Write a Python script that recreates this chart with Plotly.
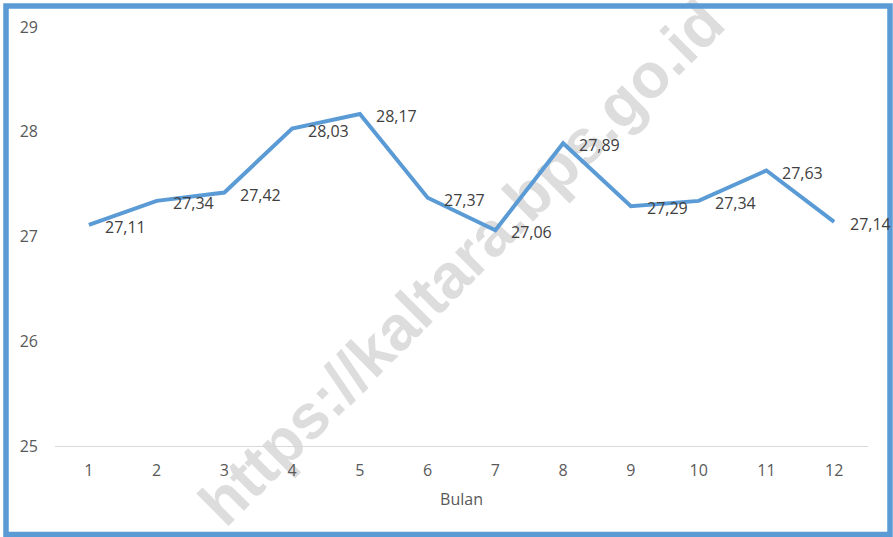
import plotly.graph_objects as go

bulan = [1, 2, 3, 4, 5, 6, 7, 8, 9, 10, 11, 12]
nilai = [27.11, 27.34, 27.42, 28.03, 28.17, 27.37, 27.06, 27.89, 27.29, 27.34, 27.63, 27.14]
label = ["27,11", "27,34", "27,42", "28,03", "28,17", "27,37", "27,06", "27,89", "27,29", "27,34", "27,63", "27,14"]
y_ticks = [25, 26, 27, 28, 29]
x_title = "Bulan"
watermark = "https://kaltara.bps.go.id"

W, H = 893, 537
L, R, T, B = 55, 25, 27, 91
pw, ph = W - L - R, H - T - B

def px_x(p):
    return (p - L) / pw

def px_y(p):
    return (H - B - p) / ph

fig = go.Figure()
fig.add_trace(go.Scatter(
    x=bulan, y=nilai, mode="lines",
    line=dict(color="#5B9BD5", width=4),
    hoverinfo="skip", showlegend=False,
))

for xv, yv, t in zip(bulan, nilai, label):
    fig.add_annotation(
        x=xv, y=yv, text=t, showarrow=False,
        xanchor="left", yanchor="middle", xshift=14, yshift=-2,
        font=dict(family="Open Sans", size=16, color="#404040"),
    )

# watermark (below traces)
fig.add_shape(
    type="rect", xref="paper", yref="paper",
    x0=px_x(457) - 0.01, x1=px_x(457) + 0.01,
    y0=px_y(258) - 0.01, y1=px_y(258) + 0.01,
    line=dict(width=0), fillcolor="rgba(0,0,0,0)", layer="below",
    label=dict(text=watermark, textangle=-45, textposition="middle center",
               font=dict(family="Liberation Sans", size=63, color="#dddddd", weight="bold")),
)

# outer border
fig.add_shape(
    type="rect", xref="paper", yref="paper",
    x0=px_x(6), x1=px_x(890), y0=px_y(534.5), y1=px_y(6),
    line=dict(color="#5B9BD5", width=5.5), fillcolor="rgba(0,0,0,0)", layer="above",
)

fig.update_layout(
    width=W, height=H,
    margin=dict(l=L, r=R, t=T, b=B, autoexpand=False),
    paper_bgcolor="white", plot_bgcolor="white",
    font=dict(family="Open Sans", size=16, color="#595959"),
    xaxis=dict(
        range=[0.5, 12.5], tickmode="array", tickvals=bulan,
        ticktext=[str(b) for b in bulan],
        showgrid=False, zeroline=False, showline=True, linecolor="#D9D9D9", linewidth=1,
        ticks="", ticklabelstandoff=10,
        title=dict(text=x_title, standoff=13, font=dict(size=16, color="#595959")),
        fixedrange=True,
    ),
    yaxis=dict(
        range=[25, 29], tickmode="array", tickvals=y_ticks,
        showgrid=False, zeroline=False, showline=False,
        ticks="", ticklabelstandoff=16, fixedrange=True,
    ),
)

fig.write_html(
    "out.html",
    config={"displayModeBar": False},
    post_script="document.body.style.margin='0';document.body.style.padding='0';",
)
